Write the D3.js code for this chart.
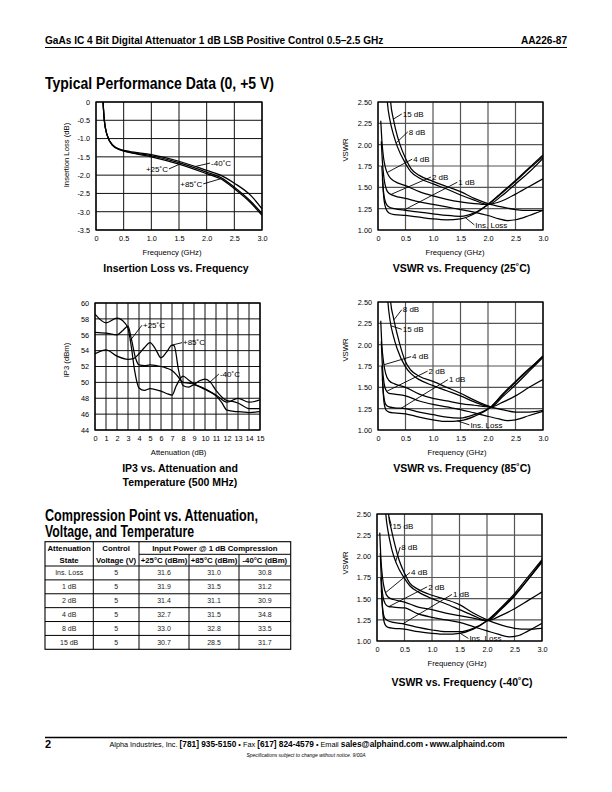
<!DOCTYPE html>
<html><head><meta charset="utf-8">
<script src="https://cdn.jsdelivr.net/npm/d3@7"></script>
<style>body{margin:0;background:#fff}svg{display:block}</style>
</head><body>
<script>
// ---------------- DATA ----------------
const freqTicks = [0, 0.5, 1, 1.5, 2, 2.5, 3];
const freqTickLabels = ["0", "0.5", "1.0", "1.5", "2.0", "2.5", "3.0"];
const ilTicks = [0, -0.5, -1, -1.5, -2, -2.5, -3, -3.5];
const ilTickLabels = ["0", "-0.5", "-1.0", "-1.5", "-2.0", "-2.5", "-3.0", "-3.5"];
const vswrTicks = [1, 1.25, 1.5, 1.75, 2, 2.25, 2.5];
const vswrTickLabels = ["1.00", "1.25", "1.50", "1.75", "2.00", "2.25", "2.50"];
const attTicks = [0,1,2,3,4,5,6,7,8,9,10,11,12,13,14,15];
const ip3Ticks = [44,46,48,50,52,54,56,58,60];

// Insertion loss vs frequency (GHz, dB)
const ilM40 = [[0.12,0.2],[0.15,-0.5],[0.2,-0.9],[0.3,-1.17],[0.45,-1.3],[0.6,-1.35],[1.0,-1.44],[1.5,-1.62],[2.0,-1.87],[2.25,-2.0],[2.5,-2.22],[2.8,-2.56],[3.0,-2.92]];
const ilP25 = [[0.12,0.2],[0.15,-0.5],[0.2,-0.9],[0.3,-1.18],[0.45,-1.31],[0.6,-1.37],[1.0,-1.47],[1.5,-1.66],[2.0,-1.92],[2.25,-2.06],[2.5,-2.33],[2.8,-2.72],[3.0,-3.05]];
const ilP85 = [[0.12,0.2],[0.15,-0.5],[0.2,-0.9],[0.3,-1.19],[0.45,-1.32],[0.6,-1.38],[1.0,-1.5],[1.5,-1.7],[2.0,-1.96],[2.25,-2.1],[2.5,-2.37],[2.8,-2.76],[3.0,-3.1]];

// VSWR vs frequency, 25 C
const v25_IL  = [[0.08,1.6],[0.11,1.35],[0.15,1.24],[0.2,1.2],[0.3,1.18],[0.5,1.17],[0.75,1.15],[1.0,1.13],[1.25,1.12],[1.5,1.13],[1.75,1.19],[2.0,1.30],[2.25,1.44],[2.5,1.58],[2.75,1.73],[3.0,1.88]];
const v25_1dB = [[0.07,1.75],[0.1,1.45],[0.14,1.32],[0.2,1.27],[0.3,1.25],[0.5,1.23],[0.75,1.21],[1.0,1.19],[1.25,1.17],[1.5,1.16],[1.75,1.20],[2.0,1.30],[2.25,1.43],[2.5,1.57],[2.75,1.72],[3.0,1.86]];
const v25_2dB = [[0.06,2.04],[0.08,1.8],[0.11,1.6],[0.15,1.48],[0.2,1.43],[0.3,1.40],[0.5,1.37],[0.75,1.33],[1.0,1.30],[1.25,1.27],[1.5,1.24],[1.75,1.21],[2.0,1.17],[2.2,1.13],[2.35,1.11],[2.5,1.12],[2.75,1.17],[3.0,1.23]];
const v25_4dB = [[0.05,2.28],[0.07,2.05],[0.1,1.85],[0.14,1.72],[0.2,1.63],[0.3,1.57],[0.5,1.52],[0.75,1.45],[1.0,1.40],[1.25,1.36],[1.5,1.33],[1.75,1.31],[2.0,1.30],[2.25,1.40],[2.5,1.54],[2.75,1.68],[3.0,1.84]];
const v25_8dB = [[0.15,2.7],[0.17,2.5],[0.22,2.28],[0.28,2.12],[0.35,1.98],[0.5,1.78],[0.6,1.68],[0.75,1.61],[1.0,1.54],[1.25,1.48],[1.5,1.41],[1.75,1.35],[2.0,1.30],[2.25,1.34],[2.5,1.42],[2.75,1.51],[3.0,1.60]];
const v25_15dB= [[0.21,2.7],[0.23,2.5],[0.28,2.30],[0.32,2.18],[0.4,2.0],[0.5,1.84],[0.6,1.72],[0.75,1.64],[1.0,1.57],[1.25,1.51],[1.5,1.45],[1.75,1.37],[2.0,1.31],[2.25,1.27],[2.5,1.24],[2.75,1.23],[3.0,1.23]];

// VSWR vs frequency, 85 C
const v85_IL  = [[0.08,1.6],[0.11,1.32],[0.15,1.23],[0.2,1.21],[0.3,1.2],[0.5,1.19],[0.75,1.15],[1.0,1.12],[1.25,1.10],[1.5,1.11],[1.75,1.16],[2.05,1.27],[2.25,1.41],[2.5,1.57],[2.75,1.72],[3.0,1.86]];
const v85_1dB = [[0.07,1.75],[0.1,1.42],[0.14,1.30],[0.2,1.27],[0.3,1.26],[0.5,1.25],[0.75,1.21],[1.0,1.18],[1.25,1.15],[1.5,1.14],[1.75,1.18],[2.05,1.27],[2.25,1.40],[2.5,1.56],[2.75,1.71],[3.0,1.87]];
const v85_2dB = [[0.06,2.04],[0.08,1.75],[0.11,1.55],[0.15,1.46],[0.2,1.43],[0.3,1.42],[0.5,1.40],[0.75,1.34],[1.0,1.30],[1.25,1.27],[1.5,1.24],[1.75,1.20],[2.0,1.16],[2.2,1.13],[2.35,1.11],[2.5,1.12],[2.75,1.17],[3.0,1.22]];
const v85_4dB = [[0.05,2.28],[0.07,2.0],[0.1,1.8],[0.14,1.66],[0.2,1.58],[0.3,1.54],[0.5,1.50],[0.75,1.42],[1.0,1.37],[1.25,1.34],[1.5,1.31],[1.75,1.29],[2.05,1.27],[2.25,1.38],[2.5,1.53],[2.75,1.69],[3.0,1.85]];
const v85_8dB = [[0.21,2.7],[0.23,2.5],[0.28,2.32],[0.35,2.12],[0.42,1.95],[0.5,1.80],[0.6,1.70],[0.75,1.63],[1.0,1.57],[1.25,1.50],[1.5,1.43],[1.75,1.35],[2.05,1.27],[2.25,1.24],[2.5,1.21],[2.75,1.21],[3.0,1.23]];
const v85_15dB= [[0.16,2.7],[0.18,2.5],[0.22,2.28],[0.28,2.10],[0.35,1.95],[0.5,1.74],[0.6,1.66],[0.75,1.59],[1.0,1.52],[1.25,1.46],[1.5,1.40],[1.75,1.33],[2.05,1.27],[2.25,1.32],[2.5,1.40],[2.75,1.50],[3.0,1.59]];

// VSWR vs frequency, -40 C
const vm40_IL  = [[0.08,1.6],[0.11,1.30],[0.15,1.19],[0.2,1.16],[0.3,1.15],[0.5,1.14],[0.75,1.11],[1.0,1.09],[1.25,1.08],[1.5,1.09],[1.75,1.14],[2.0,1.24],[2.25,1.39],[2.5,1.56],[2.75,1.76],[3.0,1.96]];
const vm40_1dB = [[0.07,1.75],[0.1,1.40],[0.14,1.27],[0.2,1.24],[0.3,1.22],[0.5,1.20],[0.75,1.16],[1.0,1.13],[1.25,1.11],[1.5,1.11],[1.75,1.15],[2.0,1.24],[2.25,1.38],[2.5,1.54],[2.75,1.73],[3.0,1.93]];
const vm40_2dB = [[0.06,2.04],[0.08,1.72],[0.11,1.52],[0.15,1.44],[0.2,1.41],[0.3,1.40],[0.5,1.39],[0.75,1.32],[1.0,1.28],[1.25,1.25],[1.5,1.22],[1.75,1.17],[2.0,1.12],[2.2,1.08],[2.4,1.05],[2.55,1.06],[2.75,1.12],[3.0,1.21]];
const vm40_4dB = [[0.05,2.28],[0.07,1.98],[0.1,1.75],[0.14,1.6],[0.2,1.52],[0.3,1.49],[0.5,1.46],[0.75,1.40],[1.0,1.37],[1.25,1.33],[1.5,1.30],[1.75,1.27],[2.0,1.24],[2.25,1.37],[2.5,1.53],[2.75,1.73],[3.0,1.95]];
const vm40_8dB = [[0.14,2.7],[0.16,2.5],[0.2,2.3],[0.27,2.08],[0.35,1.92],[0.5,1.74],[0.6,1.65],[0.75,1.58],[1.0,1.50],[1.25,1.44],[1.5,1.37],[1.75,1.30],[2.0,1.24],[2.25,1.30],[2.5,1.38],[2.75,1.48],[3.0,1.58]];
const vm40_15dB= [[0.19,2.7],[0.21,2.5],[0.26,2.32],[0.32,2.15],[0.4,1.96],[0.5,1.80],[0.6,1.68],[0.75,1.61],[1.0,1.54],[1.25,1.49],[1.5,1.43],[1.75,1.33],[2.0,1.25],[2.25,1.19],[2.5,1.15],[2.75,1.14],[3.0,1.15]];

// IP3 vs attenuation (dB, dBm)
const ip3P25 = [[0,58.6],[1,57.5],[2,58.1],[2.7,57.5],[3,56.8],[3.3,54.5],[3.6,51.5],[4,49.3],[4.5,49.0],[5,49.2],[5.5,49.1],[6,48.9],[6.5,48.6],[7,48.4],[7.4,49.6],[8,50.8],[8.5,50.3],[9,49.8],[10,49.2],[11,48.4],[12,47.5],[13,48.0],[14,47.5],[15,47.8]];
const ip3M40 = [[0,56.3],[1,56.2],[2,56.0],[2.5,56.5],[3,57.1],[3.3,55.5],[3.7,53.0],[4,52.2],[4.5,52.1],[5,52.2],[6,52.0],[6.5,51.8],[7,51.5],[7.5,50.8],[8,50.0],[8.5,49.9],[9,49.8],[9.5,50.2],[10,50.4],[10.5,50.0],[11,49.0],[12,47.7],[12.5,47.6],[13,47.4],[14,46.7],[15,46.7]];
const ip3P85 = [[0,53.6],[1,54.1],[2,53.3],[3,52.9],[3.5,53.0],[4,53.6],[4.5,54.4],[5,55.0],[5.5,54.2],[6,53.1],[6.5,53.8],[7,54.7],[7.2,54.6],[7.6,51.5],[8,49.6],[8.5,49.4],[9,49.7],[10,49.1],[11,48.3],[11.5,47.5],[12,46.5],[13,46.3],[14,46.2],[15,46.3]];

// Compression table
const tblStates = ["Ins. Loss", "1 dB", "2 dB", "4 dB", "8 dB", "15 dB"];
const tblVoltage = [5, 5, 5, 5, 5, 5];
const tblP25 = ["31.6", "31.9", "31.4", "32.7", "33.0", "30.7"];
const tblP85 = ["31.0", "31.5", "31.1", "31.5", "32.8", "28.5"];
const tblM40 = ["30.8", "31.2", "30.9", "34.8", "33.5", "31.7"];

// ---------------- DRAWING ----------------
const FONT = '"Liberation Sans", Arial, Helvetica, sans-serif';
const svg = d3.select("body").append("svg").attr("width", 612).attr("height", 792)
  .style("font-family", FONT);

function text(x, y, s, o = {}) {
  const t = svg.append("text").attr("x", x).attr("y", y).text(s)
    .attr("font-size", o.size || 8).attr("fill", "#000")
    .attr("text-anchor", o.anchor || "start");
  if (o.bold) t.attr("font-weight", "bold");
  if (o.italic) t.attr("font-style", "italic");
  if (o.len) t.attr("textLength", o.len).attr("lengthAdjust", "spacingAndGlyphs");
  if (o.rotate) t.attr("transform", `rotate(-90,${x},${y})`);
  return t;
}

function valueAt(pts, px) {
  for (let i = 0; i < pts.length - 1; i++) {
    const a = pts[i], b = pts[i + 1];
    if (px >= a[0] && px <= b[0]) return a[1] + (b[1] - a[1]) * (px - a[0]) / (b[0] - a[0]);
  }
  return pts[pts.length - 1][1];
}

let clipN = 0;
function drawChart(c) {
  const g = svg.append("g");
  const x = d3.scaleLinear().domain(c.xDomain).range([c.left, c.right]);
  const y = d3.scaleLinear().domain(c.yDomain).range([c.bottom, c.top]);
  // grid
  g.append("g").selectAll("line").data(c.xTicks).join("line")
    .attr("x1", d => x(d)).attr("x2", d => x(d)).attr("y1", c.top).attr("y2", c.bottom)
    .attr("stroke", c.grid).attr("stroke-width", c.gridW);
  g.append("g").selectAll("line").data(c.yTicks).join("line")
    .attr("y1", d => y(d)).attr("y2", d => y(d)).attr("x1", c.left).attr("x2", c.right)
    .attr("stroke", c.grid).attr("stroke-width", c.gridW);
  // curves
  const id = "clip" + (clipN++);
  svg.append("clipPath").attr("id", id).append("rect")
    .attr("x", c.left).attr("y", c.top).attr("width", c.right - c.left).attr("height", c.bottom - c.top);
  const line = d3.line().x(d => x(d[0])).y(d => y(d[1])).curve(d3.curveMonotoneX);
  g.append("g").attr("clip-path", `url(#${id})`).selectAll("path").data(c.series).join("path")
    .attr("d", d => line(d.pts)).attr("fill", "none").attr("stroke", "#000")
    .attr("stroke-width", 1.25).attr("stroke-linejoin", "round");
  // frame
  g.append("rect").attr("x", c.left).attr("y", c.top).attr("width", c.right - c.left).attr("height", c.bottom - c.top)
    .attr("fill", "none").attr("stroke", "#000").attr("stroke-width", 1.3);
  // axes
  const ax = g.append("g").attr("transform", `translate(0,${c.bottom})`)
    .call(d3.axisBottom(x).tickValues(c.xTicks).tickSize(0).tickPadding(5.5)
      .tickFormat((d, i) => c.xLabels[i]));
  const ay = g.append("g").attr("transform", `translate(${c.left},0)`)
    .call(d3.axisLeft(y).tickValues(c.yTicks).tickSize(0).tickPadding(6)
      .tickFormat((d, i) => c.yLabels[i]));
  [ax, ay].forEach(a => {
    a.select(".domain").remove();
    a.attr("font-family", FONT).attr("font-size", 7.3);
    a.selectAll("text").attr("fill", "#000");
  });
  // annotation labels
  c.series.forEach(s => {
    if (!s.label) return;
    const L = s.label;
    const cx = x(L.px), cy = y(valueAt(s.pts, L.px));
    const lx = x(L.tx), ly = y(L.ty);
    g.append("line").attr("x1", cx).attr("y1", cy)
      .attr("x2", lx + (L.anchor === "end" ? 1 : -1)).attr("y2", ly)
      .attr("stroke", "#000").attr("stroke-width", 0.9);
    g.append("text").attr("x", lx).attr("y", ly).attr("dy", "0.35em").text(L.text)
      .attr("font-size", c.labelSize || 8).attr("text-anchor", L.anchor || "start");
  });
  // axis titles + chart title
  text(c.xTitleX, c.bottom + 24.5, c.xTitle, { size: 7.7, anchor: "middle" });
  text(c.yTitleX, c.yTitleY, c.yTitle, { size: 7.7, anchor: "middle", rotate: true });
  c.title.forEach((t, i) => text(c.titleX, c.titleY + i * 13.5, t, { size: 10.5, bold: true, anchor: "middle" }));
}

// Header
text(45, 43.5, "GaAs IC 4 Bit Digital Attenuator 1 dB LSB Positive Control 0.5–2.5 GHz", { size: 10.1, bold: true });
text(567, 43.5, "AA226-87", { size: 10.1, bold: true, anchor: "end" });
svg.append("line").attr("x1", 45).attr("x2", 567).attr("y1", 47.5).attr("y2", 47.5).attr("stroke", "#000").attr("stroke-width", 1);

text(45, 89, "Typical Performance Data (0, +5 V)", { size: 16, bold: true, len: 229 });

// Insertion loss chart
drawChart({
  left: 96, right: 262, top: 102, bottom: 230,
  xDomain: [0, 3], yDomain: [-3.5, 0],
  xTicks: freqTicks, xLabels: freqTickLabels, yTicks: ilTicks, yLabels: ilTickLabels,
  grid: "#111", gridW: 1,
  series: [
    { pts: ilM40, label: { text: "-40˚C", px: 1.79, tx: 2.08, ty: -1.67 } },
    { pts: ilP25, label: { text: "+25˚C", px: 1.54, tx: 1.30, ty: -1.83, anchor: "end" } },
    { pts: ilP85, label: { text: "+85˚C", px: 2.25, tx: 1.92, ty: -2.24, anchor: "end" } }
  ],
  xTitle: "Frequency (GHz)", xTitleX: 172,
  yTitle: "Insertion Loss (dB)", yTitleX: 69, yTitleY: 155,
  title: ["Insertion Loss vs. Frequency"], titleX: 176, titleY: 271.8
});

function vswrSeries(d, lab) {
  return d.map((pts, i) => ({ pts, label: lab[i] }));
}

// VSWR 25 C
drawChart({
  left: 378, right: 543, top: 102, bottom: 230,
  xDomain: [0, 3], yDomain: [1, 2.5],
  xTicks: freqTicks, xLabels: freqTickLabels, yTicks: vswrTicks, yLabels: vswrTickLabels,
  grid: "#555", gridW: 1.2,
  series: vswrSeries([v25_15dB, v25_8dB, v25_4dB, v25_2dB, v25_1dB, v25_IL], [
    { text: "15 dB", px: 0.28, tx: 0.45, ty: 2.36 },
    { text: "8 dB", px: 0.33, tx: 0.56, ty: 2.15 },
    { text: "4 dB", px: 0.17, tx: 0.64, ty: 1.83 },
    { text: "2 dB", px: 0.24, tx: 0.98, ty: 1.62 },
    { text: "1 dB", px: 0.47, tx: 1.46, ty: 1.56 },
    { text: "Ins. Loss", px: 1.58, tx: 1.77, ty: 1.06 }
  ]),
  xTitle: "Frequency (GHz)", xTitleX: 455,
  yTitle: "VSWR", yTitleX: 348, yTitleY: 150,
  title: ["VSWR vs. Frequency (25˚C)"], titleX: 461.5, titleY: 271.8
});

// IP3 chart
drawChart({
  left: 95, right: 260, top: 303, bottom: 430,
  xDomain: [0, 15], yDomain: [44, 60],
  xTicks: attTicks, xLabels: attTicks.map(String), yTicks: ip3Ticks, yLabels: ip3Ticks.map(String),
  grid: "#111", gridW: 1,
  series: [
    { pts: ip3P25, label: { text: "+25˚C", px: 3.2, tx: 4.36, ty: 57.2 } },
    { pts: ip3P85, label: { text: "+85˚C", px: 7.0, tx: 8.0, ty: 55.0 } },
    { pts: ip3M40, label: { text: "-40˚C", px: 10.45, tx: 11.36, ty: 51.06 } }
  ],
  xTitle: "Attenuation (dB)", xTitleX: 178.6,
  yTitle: "IP3 (dBm)", yTitleX: 69, yTitleY: 360,
  title: ["IP3 vs. Attenuation and", "Temperature (500 MHz)"], titleX: 180, titleY: 472
});

// VSWR 85 C
drawChart({
  left: 378, right: 543, top: 302, bottom: 430,
  xDomain: [0, 3], yDomain: [1, 2.5],
  xTicks: freqTicks, xLabels: freqTickLabels, yTicks: vswrTicks, yLabels: vswrTickLabels,
  grid: "#555", gridW: 1.2,
  series: vswrSeries([v85_8dB, v85_15dB, v85_4dB, v85_2dB, v85_1dB, v85_IL], [
    { text: "8 dB", px: 0.29, tx: 0.45, ty: 2.41 },
    { text: "15 dB", px: 0.24, tx: 0.45, ty: 2.18 },
    { text: "4 dB", px: 0.11, tx: 0.62, ty: 1.86 },
    { text: "2 dB", px: 0.16, tx: 0.92, ty: 1.69 },
    { text: "1 dB", px: 0.42, tx: 1.29, ty: 1.59 },
    { text: "Ins. Loss", px: 1.44, tx: 1.68, ty: 1.06 }
  ]),
  xTitle: "Frequency (GHz)", xTitleX: 457,
  yTitle: "VSWR", yTitleX: 348, yTitleY: 350,
  title: ["VSWR vs. Frequency (85˚C)"], titleX: 462, titleY: 471.8
});

// Compression section
text(45, 521, "Compression Point vs. Attenuation,", { size: 16, bold: true, len: 213 });
text(45, 537, "Voltage, and Temperature", { size: 16, bold: true, len: 149 });

(function drawTable() {
  const colEdges = [45, 93.3, 139, 189, 239, 290.7];
  const top = 541.7, mid = 554.3, headBottom = 566, bottom = 649.3;
  const rowY = d3.scaleBand().domain(tblStates).range([headBottom, bottom]);
  const g = svg.append("g");
  const ln = (x1, y1, x2, y2, w = 1) => g.append("line").attr("x1", x1).attr("y1", y1).attr("x2", x2).attr("y2", y2)
    .attr("stroke", "#000").attr("stroke-width", w);
  g.append("rect").attr("x", colEdges[0]).attr("y", top).attr("width", colEdges[5] - colEdges[0]).attr("height", bottom - top)
    .attr("fill", "none").attr("stroke", "#000").attr("stroke-width", 1.1);
  colEdges.slice(1, 5).forEach((cx, i) => ln(cx, i < 2 ? top : mid, cx, bottom));
  ln(colEdges[2], mid, colEdges[5], mid);
  tblStates.forEach(s => ln(colEdges[0], rowY(s), colEdges[5], rowY(s)));
  const cc = i => (colEdges[i] + colEdges[i + 1]) / 2;
  const hs = 7.8;
  text(cc(0), 551, "Attenuation", { size: hs, bold: true, anchor: "middle" });
  text(cc(0), 563, "State", { size: hs, bold: true, anchor: "middle" });
  text(cc(1), 551, "Control", { size: hs, bold: true, anchor: "middle" });
  text(cc(1), 563, "Voltage (V)", { size: hs, bold: true, anchor: "middle" });
  text((colEdges[2] + colEdges[5]) / 2, 551, "Input Power @ 1 dB Compression", { size: hs, bold: true, anchor: "middle" });
  text(cc(2), 563, "+25°C (dBm)", { size: hs, bold: true, anchor: "middle" });
  text(cc(3), 563, "+85°C (dBm)", { size: hs, bold: true, anchor: "middle" });
  text(cc(4), 563, "-40°C (dBm)", { size: hs, bold: true, anchor: "middle" });
  const cols = [tblStates, tblVoltage, tblP25, tblP85, tblM40];
  tblStates.forEach((s, r) => {
    const yy = rowY(s) + rowY.bandwidth() / 2 + 2.5;
    cols.forEach((col, ci) => text(cc(ci), yy, String(col[r]), { size: 7, anchor: "middle" }).attr("fill", "#222"));
  });
})();

// VSWR -40 C
drawChart({
  left: 377, right: 542, top: 514, bottom: 641,
  xDomain: [0, 3], yDomain: [1, 2.5],
  xTicks: freqTicks, xLabels: freqTickLabels, yTicks: vswrTicks, yLabels: vswrTickLabels,
  grid: "#555", gridW: 1.2,
  series: vswrSeries([vm40_15dB, vm40_8dB, vm40_4dB, vm40_2dB, vm40_1dB, vm40_IL], [
    { text: "15 dB", px: 0.22, tx: 0.28, ty: 2.36 },
    { text: "8 dB", px: 0.34, tx: 0.44, ty: 2.11 },
    { text: "4 dB", px: 0.16, tx: 0.62, ty: 1.81 },
    { text: "2 dB", px: 0.22, tx: 0.93, ty: 1.64 },
    { text: "1 dB", px: 0.47, tx: 1.38, ty: 1.55 },
    { text: "Ins. Loss", px: 1.51, tx: 1.68, ty: 1.03 }
  ]),
  xTitle: "Frequency (GHz)", xTitleX: 457,
  yTitle: "VSWR", yTitleX: 348, yTitleY: 563,
  title: ["VSWR vs. Frequency (-40˚C)"], titleX: 462, titleY: 685.5
});

// Footer
svg.append("line").attr("x1", 45).attr("x2", 567).attr("y1", 737.5).attr("y2", 737.5).attr("stroke", "#000").attr("stroke-width", 1.5);
text(45, 748, "2", { size: 11, bold: true });
const ft = svg.append("text").attr("x", 307).attr("y", 746.5).attr("text-anchor", "middle");
[["Alpha Industries, Inc. ", false], ["[781] 935-5150", true], [" • Fax ", false], ["[617] 824-4579", true],
 [" • Email ", false], ["sales@alphaind.com", true], [" • ", false], ["www.alphaind.com", true]]
  .forEach(([s, b]) => ft.append("tspan").text(s).attr("font-weight", b ? "bold" : "normal").attr("font-size", b ? 8.3 : 7.3));
text(306, 757, "Specifications subject to change without notice.  9/00A", { size: 5, italic: true, anchor: "middle" });
</script>
</body></html>
